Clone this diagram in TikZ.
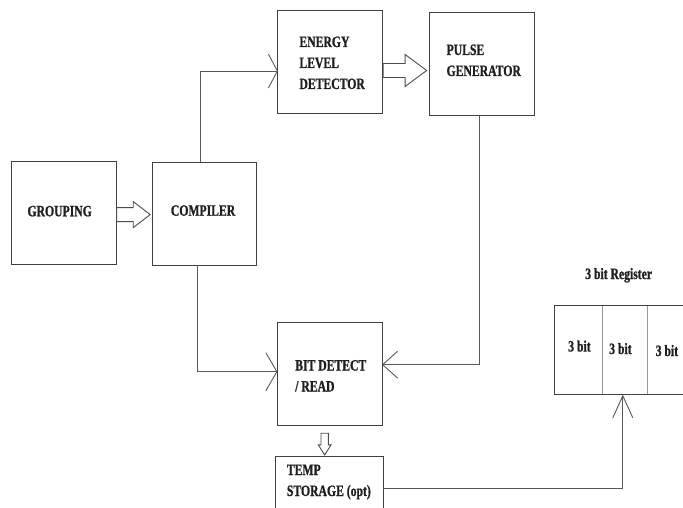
\documentclass[tikz,border=0pt]{standalone}
\usepackage{fontspec}
\newfontfamily\lblfont{Liberation Serif Bold}[FakeStretch=0.74, FakeBold=1]
\usetikzlibrary{arrows.meta,calc}
\begin{document}
\begin{tikzpicture}[x=1pt,y=-1pt,
  blk/.style={draw=black!75, line width=0.9pt, inner sep=0pt, outer sep=0pt, minimum width=104.6pt, minimum height=102.8pt},
  cell/.style={draw=none, inner sep=0pt, outer sep=0pt, minimum height=89.7pt},
  lbl/.style={font=\lblfont\fontsize{15.8}{21}\selectfont, text=black!88, inner sep=0pt, anchor=base west, align=left},
  conn/.style={draw=black!65, line width=0.9pt},
  hollow/.style={draw=black!70, fill=white, line width=0.9pt, line join=miter},
  divider/.style={draw=black!40, line width=1.4pt}
]
\useasboundingbox (0,0) rectangle (683,508);
\clip (0,0) rectangle (683,508);
\fill[white] (0,0) rectangle (683,508);

% boxes
\node[blk, minimum width=105.3pt, minimum height=103.3pt] (grp) at (63.6,212.7) {};
\node[blk] (comp) at (204.3,213.7) {};
\node[blk] (eld) at (330.2,62.3) {};
\node[blk] (pg) at (481.7,63.7) {};
\node[blk] (bd) at (329.7,374.2) {};
\node[blk, minimum width=107.6pt, minimum height=103.3pt] (ts) at (329.5,508.3) {};

% register cells
\node[cell, minimum width=48.4pt] (c1) at (578.2,349.85) {};
\node[cell, minimum width=45.1pt] (c2) at (625,349.85) {};
\node[cell, minimum width=52.5pt] (c3) at (673.75,349.85) {};
\draw[divider] (c1.north east) -- (c1.south east);
\draw[divider] (c2.north east) -- (c2.south east);
\draw[draw=black!75, line width=0.9pt] (c3.north east) -- (c1.north west) -- (c1.south west) -- (c3.south east);

% labels (base = baseline of last line)
\node[lbl] (tgrp) at (27.3,216.3) {GROUPING};
\node[lbl] (tcomp) at (170.7,215.7) {COMPILER};
\node[lbl] (teld) at (299.2,89) {ENERGY\\LEVEL\\DETECTOR};
\node[lbl] (tpg) at (446.4,76) {PULSE\\GENERATOR};
\node[lbl] (tbd) at (295,391.5) {BIT DETECT\\/ READ};
\node[lbl] (tts) at (286.7,496) {TEMP\\STORAGE (opt)};
\node[lbl] (treg) at (585,279) {3 bit Register};
\node[lbl] (tc1) at (568,351.5) {3 bit};
\node[lbl] (tc2) at (609,354) {3 bit};
\node[lbl] (tc3) at (655.5,356) {3 bit};

% line connectors with open barbs
\draw[conn, -{Straight Barb[length=9pt,width=34pt]}] ($(comp.north)+(-4.3,0)$) |- ($(eld.west)+(0,8.7)$);
\draw[conn, -{Straight Barb[length=11pt,width=38pt]}] ($(comp.south)+(-7.3,0)$) |- ($(bd.west)+(0,-2.5)$);
\draw[conn, -{Straight Barb[length=15pt,width=27pt]}] ($(pg.south)+(-2.7,0)$) |- ($(bd.east)+(0,-9.5)$);
\draw[conn, -{Straight Barb[length=22pt,width=20pt]}] ($(ts.east)+(0,-19.6)$) -| ($(c2.south)+(-2.2,0)$);

% hollow block arrows
\draw[hollow] ($(grp.east)+(0.5,-5.1)$) -- ++(16.5,0) -- ++(0,-6) -- ($(comp.west)+(-1.8,0.9)$) -- ($(grp.east)+(17,14.9)$) -- ++(0,-6) -- ++(-16.5,0) -- cycle;
\draw[hollow] ($(eld.east)+(0.6,1.2)$) -- ++(22,0) -- ++(0,-9) -- ($(pg.west)+(-2.7,6.8)$) -- ($(eld.east)+(22.6,24.2)$) -- ++(0,-9) -- ++(-22,0) -- cycle;
\draw[hollow] ($(bd.south)+(-8.7,7.6)$) -- ++(0,11.7) -- ++(-2.7,0) -- ($(ts.north)+(-4.8,-1.7)$) -- ($(bd.south)+(1.3,19.3)$) -- ++(-2.7,0) -- ++(0,-11.7) -- cycle;
\end{tikzpicture}
\end{document}
